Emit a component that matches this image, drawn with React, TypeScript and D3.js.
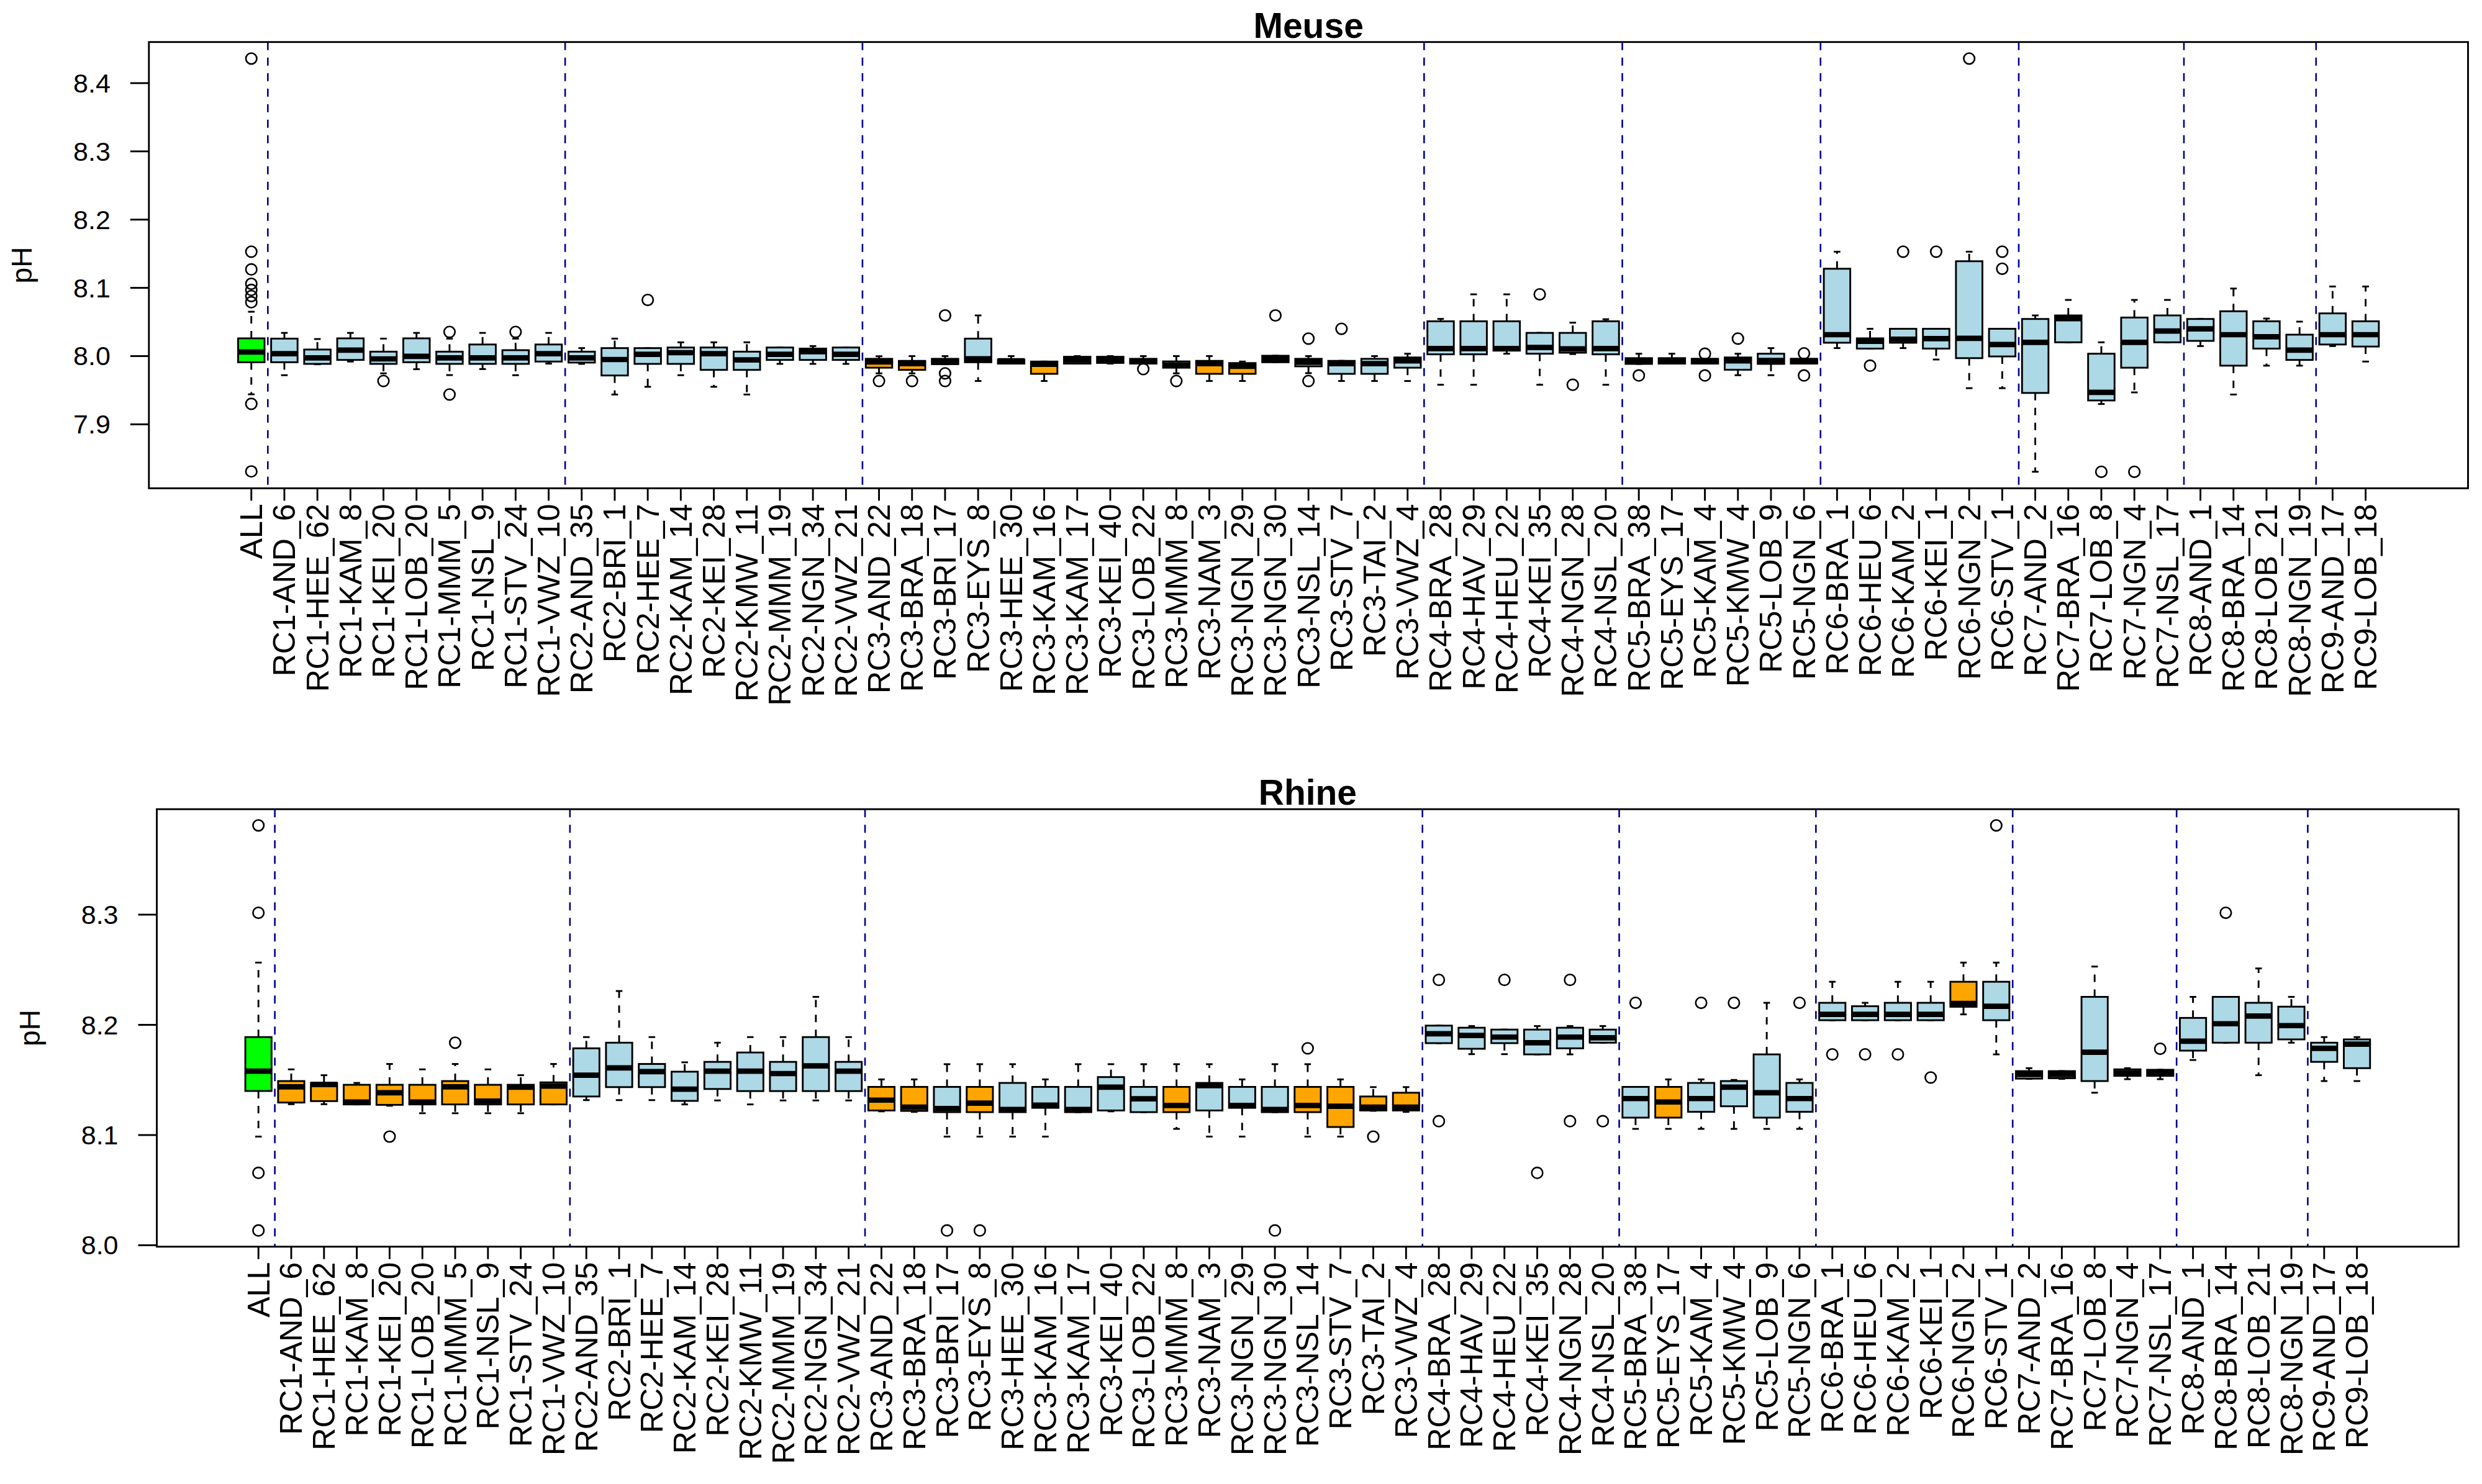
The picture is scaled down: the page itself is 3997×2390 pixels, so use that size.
import React from 'react';
import * as d3 from 'd3';

const categories = [
  'ALL', 'RC1-AND_6', 'RC1-HEE_62', 'RC1-KAM_8', 'RC1-KEI_20', 'RC1-LOB_20', 'RC1-MMM_5', 'RC1-NSL_9', 'RC1-STV_24', 'RC1-VWZ_10',
  'RC2-AND_35', 'RC2-BRI_1', 'RC2-HEE_7', 'RC2-KAM_14', 'RC2-KEI_28', 'RC2-KMW_11', 'RC2-MMM_19', 'RC2-NGN_34', 'RC2-VWZ_21',
  'RC3-AND_22', 'RC3-BRA_18', 'RC3-BRI_17', 'RC3-EYS_8', 'RC3-HEE_30', 'RC3-KAM_16', 'RC3-KAM_17', 'RC3-KEI_40', 'RC3-LOB_22',
  'RC3-MMM_8', 'RC3-NAM_3', 'RC3-NGN_29', 'RC3-NGN_30', 'RC3-NSL_14', 'RC3-STV_7', 'RC3-TAI_2', 'RC3-VWZ_4',
  'RC4-BRA_28', 'RC4-HAV_29', 'RC4-HEU_22', 'RC4-KEI_35', 'RC4-NGN_28', 'RC4-NSL_20',
  'RC5-BRA_38', 'RC5-EYS_17', 'RC5-KAM_4', 'RC5-KMW_4', 'RC5-LOB_9', 'RC5-NGN_6',
  'RC6-BRA_1', 'RC6-HEU_6', 'RC6-KAM_2', 'RC6-KEI_1', 'RC6-NGN_2', 'RC6-STV_1',
  'RC7-AND_2', 'RC7-BRA_16', 'RC7-LOB_8', 'RC7-NGN_4', 'RC7-NSL_17',
  'RC8-AND_1', 'RC8-BRA_14', 'RC8-LOB_21', 'RC8-NGN_19',
  'RC9-AND_17', 'RC9-LOB_18',
];

// ---------------- Meuse ----------------
const meuseLower = [
  7.944, 7.972, 7.988, 7.992, 7.9747, 7.9808, 7.9722, 7.981, 7.972, 7.989,
  7.9886, 7.9437, 7.955, 7.972, 7.955, 7.9437, 7.9886, 7.9886, 7.9886,
  7.9747, 7.9747, 7.988, 7.9635, 7.989, 7.9635, 7.989, 7.989, 7.989, 7.9747, 7.9635, 7.9635, 7.991, 7.975, 7.9635, 7.9635, 7.9635,
  7.958, 7.958, 8.0035, 7.958, 8.003, 7.958,
  7.9886, 7.989, 7.989, 7.972, 7.972, 7.989,
  8.0117, 8.011, 8.0117, 7.995, 7.953, 7.953,
  7.8305, 8.0202, 7.9298, 7.9468, 8.0202,
  8.0147, 7.9437, 7.986, 7.986,
  8.0147, 7.992,
];
const meuseQ1 = [
  7.991, 7.991, 7.9886, 7.9944, 7.9886, 7.991, 7.9886, 7.9886, 7.9886, 7.992,
  7.9905, 7.9716, 7.9886, 7.9886, 7.9798, 7.9798, 7.9944, 7.9944, 7.9944,
  7.983, 7.9798, 7.9883, 7.991, 7.989, 7.974, 7.989, 7.99, 7.989, 7.983, 7.974, 7.974, 7.991, 7.985, 7.974, 7.974, 7.983,
  8.0026, 8.0026, 8.008, 8.0035, 8.005, 8.0026,
  7.9886, 7.989, 7.989, 7.98, 7.9886, 7.989,
  8.0196, 8.011, 8.0196, 8.011, 7.997, 7.9995,
  7.946, 8.0202, 7.935, 7.983, 8.0202,
  8.0223, 7.986, 8.011, 7.9944,
  8.017, 8.014,
];
const meuseMedian = [
  8.006, 8.0035, 7.9974, 8.0087, 7.9959, 7.9996, 7.9974, 7.9974, 7.9974, 8.0035,
  7.9974, 7.995, 8.0026, 8.005, 8.0035, 7.9944, 8.0026, 8.0065, 8.0026,
  7.9914, 7.989, 7.991, 7.996, 7.993, 7.988, 7.9944, 7.995, 7.992, 7.987, 7.989, 7.985, 7.996, 7.991, 7.989, 7.989, 7.993,
  8.011, 8.011, 8.011, 8.0126, 8.0105, 8.011,
  7.993, 7.993, 7.993, 7.993, 7.9935, 7.993,
  8.0314, 8.0217, 8.0247, 8.0256, 8.026, 8.017,
  8.0202, 8.055, 7.9468, 8.0202, 8.0368,
  8.04, 8.0314, 8.0284, 8.0087,
  8.0314, 8.0314,
];
const meuseQ3 = [
  8.026, 8.0256, 8.0096, 8.026, 8.0065, 8.026, 8.0065, 8.017, 8.0087, 8.017,
  8.0065, 8.0117, 8.0117, 8.0126, 8.0126, 8.0065, 8.0126, 8.011, 8.0126,
  7.996, 7.993, 7.996, 8.0256, 7.995, 7.992, 7.999, 7.999, 7.996, 7.9922, 7.993, 7.9898, 8.0005, 7.996, 7.993, 7.996, 7.998,
  8.051, 8.051, 8.051, 8.034, 8.034, 8.051,
  7.997, 7.997, 7.996, 7.998, 8.0035, 7.996,
  8.128, 8.026, 8.04, 8.04, 8.139, 8.04,
  8.0544, 8.0596, 8.0035, 8.0565, 8.0596,
  8.0544, 8.0657, 8.051, 8.0314,
  8.0626, 8.051,
];
const meuseUpper = [
  8.065, 8.034, 8.025, 8.034, 8.0256, 8.034, 8.0256, 8.034, 8.0256, 8.034,
  8.0117, 8.0256, 8.0117, 8.0202, 8.0202, 8.0202, 8.0126, 8.0147, 8.0126,
  7.9998, 8.0, 8.0, 8.0596, 8.0, 7.992, 8.0, 8.0, 8.0, 8.0, 8.0, 7.992, 8.0005, 8.0, 7.993, 8.0, 8.0035,
  8.0545, 8.0905, 8.0905, 8.034, 8.049, 8.054,
  8.0035, 8.0035, 7.996, 8.0035, 8.0117, 7.996,
  8.153, 8.04, 8.04, 8.04, 8.153, 8.04,
  8.0596, 8.0823, 8.0202, 8.0823, 8.0823,
  8.0544, 8.099, 8.055, 8.0505,
  8.102, 8.102,
];
const meuseOutliers: number[][] = [
  [8.436, 8.153, 8.127, 8.106, 8.097, 8.088, 8.079, 7.93, 7.831], [], [], [], [7.9635], [], [8.0354, 7.9437], [], [8.0354], [],
  [], [], [8.0823], [], [], [], [], [], [],
  [7.9635], [7.9635], [8.0596, 7.9747, 7.9635], [], [], [], [], [], [7.981], [7.9635], [], [], [8.0596], [8.0256, 7.9635], [8.04], [], [],
  [], [], [], [8.0905], [7.958], [],
  [7.9716], [], [8.0035, 7.9716], [8.0256], [], [8.004, 7.9716],
  [], [7.986], [8.153], [8.153], [8.436], [8.153, 8.128],
  [], [], [7.8305], [7.8305], [],
  [], [], [], [],
  [], [],
];
const meuseFill = [
  'G', 'B', 'B', 'B', 'B', 'B', 'B', 'B', 'B', 'B',
  'B', 'B', 'B', 'B', 'B', 'B', 'B', 'B', 'B',
  'O', 'O', 'B', 'B', 'B', 'O', 'B', 'B', 'B', 'B', 'O', 'O', 'B', 'B', 'B', 'B', 'B',
  'B', 'B', 'B', 'B', 'B', 'B',
  'B', 'B', 'B', 'B', 'B', 'B',
  'B', 'B', 'B', 'B', 'B', 'B',
  'B', 'B', 'B', 'B', 'B',
  'B', 'B', 'B', 'B',
  'B', 'B',
];
const meuseTicks = [7.9, 8.0, 8.1, 8.2, 8.3, 8.4];

// ---------------- Rhine ----------------
const rhineLower = [
  8.0986, 8.128, 8.128, 8.1278, 8.1266, 8.1198, 8.1198, 8.1198, 8.1198, 8.1278,
  8.1317, 8.1317, 8.1317, 8.1278, 8.1314, 8.1278, 8.1314, 8.1314, 8.1314,
  8.1215, 8.121, 8.0986, 8.0986, 8.0986, 8.0986, 8.1208, 8.1215, 8.1208, 8.1056, 8.0986, 8.0986, 8.1208, 8.0986, 8.0986, 8.122, 8.121,
  8.1834, 8.1734, 8.1734, 8.1732, 8.1732, 8.1838,
  8.1056, 8.1056, 8.1056, 8.1056, 8.1056, 8.1056,
  8.2042, 8.2042, 8.2042, 8.2042, 8.2095, 8.1732,
  8.151, 8.151, 8.1384, 8.1507, 8.1507,
  8.1681, 8.1838, 8.1543, 8.1838,
  8.149, 8.149,
];
const rhineQ1 = [
  8.14, 8.1295, 8.1308, 8.1278, 8.1274, 8.1278, 8.1278, 8.1278, 8.1278, 8.1278,
  8.135, 8.1435, 8.1435, 8.131, 8.1418, 8.1399, 8.1399, 8.1399, 8.1399,
  8.1223, 8.1219, 8.1208, 8.1208, 8.1208, 8.1247, 8.1208, 8.1223, 8.1208, 8.1208, 8.1223, 8.1247, 8.1208, 8.1208, 8.1073, 8.1223, 8.1223,
  8.1834, 8.1783, 8.1834, 8.1732, 8.1787, 8.1838,
  8.1158, 8.1158, 8.1211, 8.1261, 8.1158, 8.1211,
  8.2042, 8.2042, 8.2042, 8.2042, 8.2164, 8.2042,
  8.1512, 8.1516, 8.149, 8.1537, 8.1537,
  8.1766, 8.1838, 8.1838, 8.1868,
  8.1664, 8.1607,
];
const rhineMedian = [
  8.158, 8.1437, 8.1459, 8.13, 8.1384, 8.13, 8.1437, 8.1308, 8.1435, 8.1444,
  8.1543, 8.1609, 8.1575, 8.1416, 8.158, 8.158, 8.1558, 8.1628, 8.158,
  8.1317, 8.1253, 8.124, 8.1289, 8.1232, 8.1272, 8.1232, 8.1435, 8.1329, 8.1268, 8.1448, 8.1268, 8.1232, 8.1268, 8.1261, 8.1253, 8.1253,
  8.1919, 8.1904, 8.1889, 8.1838, 8.1889, 8.1883,
  8.1331, 8.13, 8.1331, 8.1435, 8.1384, 8.1331,
  8.2095, 8.2095, 8.2095, 8.2095, 8.2194, 8.2169,
  8.155, 8.155, 8.1751, 8.1565, 8.1565,
  8.1851, 8.201, 8.208, 8.1993,
  8.1787, 8.1825,
];
const rhineQ3 = [
  8.1889, 8.149, 8.1473, 8.1456, 8.1456, 8.1456, 8.149, 8.1456, 8.1456, 8.1478,
  8.1787, 8.1838, 8.1645, 8.1575, 8.1664, 8.1749, 8.1664, 8.1889, 8.1664,
  8.1437, 8.1437, 8.1437, 8.1437, 8.1473, 8.1437, 8.1437, 8.1526, 8.1437, 8.1437, 8.1473, 8.1437, 8.1437, 8.1437, 8.1437, 8.135, 8.1384,
  8.1993, 8.1974, 8.1957, 8.1957, 8.1974, 8.1957,
  8.1437, 8.1437, 8.1473, 8.149, 8.1732, 8.1473,
  8.22, 8.2169, 8.22, 8.22, 8.2391, 8.2391,
  8.158, 8.158, 8.2254, 8.1596, 8.1592,
  8.2063, 8.2254, 8.22, 8.2165,
  8.1838, 8.1868,
];
const rhineUpper = [
  8.2565, 8.1596, 8.1543, 8.1473, 8.1645, 8.1596, 8.1645, 8.1596, 8.1543, 8.1645,
  8.1889, 8.2307, 8.1889, 8.166, 8.1838, 8.1889, 8.1889, 8.2254, 8.1889,
  8.1505, 8.1505, 8.1643, 8.1643, 8.1643, 8.1505, 8.1643, 8.1643, 8.1643, 8.1643, 8.1643, 8.1505, 8.1643, 8.1643, 8.1505, 8.1435, 8.1435,
  8.1993, 8.1989, 8.1957, 8.1989, 8.1989, 8.1989,
  8.1437, 8.1505, 8.1505, 8.15, 8.22, 8.1505,
  8.2391, 8.22, 8.2391, 8.2391, 8.2565, 8.2565,
  8.1607, 8.158, 8.2529, 8.1607, 8.1592,
  8.2254, 8.2254, 8.2512, 8.2254,
  8.1889, 8.1889,
];
const rhineOutliers: number[][] = [
  [8.381, 8.3017, 8.0657, 8.0134], [], [], [], [8.0986], [], [8.1838], [], [], [],
  [], [], [], [], [], [], [], [], [],
  [], [], [8.0134], [8.0134], [], [], [], [], [], [], [], [], [8.0134], [8.1787], [], [8.0986], [],
  [8.2408, 8.1126], [], [8.2408], [8.0657], [8.2408, 8.1126], [8.1126],
  [8.22], [], [8.22], [8.22], [], [8.22],
  [8.1732], [8.1732], [8.1732], [8.1522], [], [8.381],
  [], [], [], [], [8.1783],
  [], [8.3017], [], [],
  [], [],
];
const rhineFill = [
  'G', 'O', 'O', 'O', 'O', 'O', 'O', 'O', 'O', 'O',
  'B', 'B', 'B', 'B', 'B', 'B', 'B', 'B', 'B',
  'O', 'O', 'B', 'O', 'B', 'B', 'B', 'B', 'B', 'O', 'B', 'B', 'B', 'O', 'O', 'O', 'O',
  'B', 'B', 'B', 'B', 'B', 'B',
  'B', 'O', 'B', 'B', 'B', 'B',
  'B', 'B', 'B', 'B', 'O', 'B',
  'B', 'B', 'B', 'B', 'B',
  'B', 'B', 'B', 'B',
  'B', 'B',
];
const rhineTicks = [8.0, 8.1, 8.2, 8.3];

// ---------------- drawing ----------------
const FONT = "'Liberation Sans', Arial, Helvetica, sans-serif";
const FILLS: Record<string, string> = { G: '#00FF00', O: '#FFA500', B: '#ADD8E6' };
const LW = 2.9;

type Frame = { left: number; right: number; top: number; bottom: number };

function Panel(props: {
  title: string;
  lower: number[]; q1: number[]; median: number[]; q3: number[]; upper: number[];
  outliers: number[][]; fills: string[]; ticks: number[]; frame: Frame; ylabX: number;
}) {
  const { title, lower, q1, median, q3, upper, outliers, fills, ticks, frame, ylabX } = props;
  const n = categories.length;
  const x = d3.scaleLinear()
    .domain([0.5 - 0.04 * n, n + 0.5 + 0.04 * n])
    .range([frame.left, frame.right]);
  const vals = [...lower, ...upper, ...outliers.flat()];
  const mn = d3.min(vals) as number;
  const mx = d3.max(vals) as number;
  const pad = (mx - mn) * 0.04;
  const y = d3.scaleLinear().domain([mn - pad, mx + pad]).range([frame.bottom, frame.top]);
  const unit = x(2) - x(1);
  const hw = 0.4 * unit;
  const cw = 0.2 * unit;
  const group = (c: string) => c.split('-')[0];
  const breaks: number[] = [];
  for (let i = 1; i < n; i++) {
    if (group(categories[i]) !== group(categories[i - 1])) breaks.push(i + 0.5);
  }
  const cx = (frame.left + frame.right) / 2;
  const cy = (frame.top + frame.bottom) / 2;
  const labFs = 50;
  return (
    <g>
      <text x={cx} y={frame.top - 7} textAnchor="middle" fontFamily={FONT} fontWeight="bold" fontSize={57}>{title}</text>
      <text transform={`translate(${ylabX},${cy}) rotate(-90)`} textAnchor="middle" fontFamily={FONT} fontSize={46}>pH</text>
      {categories.map((c, i) => {
        const px = x(i + 1);
        return (
          <g key={c}>
            <line x1={px} x2={px} y1={y(q3[i])} y2={y(upper[i])} stroke="#000" strokeWidth={LW} strokeDasharray="12,12" />
            <line x1={px} x2={px} y1={y(q1[i])} y2={y(lower[i])} stroke="#000" strokeWidth={LW} strokeDasharray="12,12" />
            <line x1={px - cw / 2} x2={px + cw / 2} y1={y(upper[i])} y2={y(upper[i])} stroke="#000" strokeWidth={LW} />
            <line x1={px - cw / 2} x2={px + cw / 2} y1={y(lower[i])} y2={y(lower[i])} stroke="#000" strokeWidth={LW} />
            <rect x={px - hw} width={2 * hw} y={y(q3[i])} height={Math.max(0.5, y(q1[i]) - y(q3[i]))}
              fill={FILLS[fills[i]]} stroke="#000" strokeWidth={LW} />
            <line x1={px - hw} x2={px + hw} y1={y(median[i])} y2={y(median[i])} stroke="#000" strokeWidth={LW * 3} />
            {outliers[i].map((o, k) => (
              <circle key={k} cx={px} cy={y(o)} r={8.8} fill="none" stroke="#000" strokeWidth={2.6} />
            ))}
            <line x1={px} x2={px} y1={frame.bottom} y2={frame.bottom + 20} stroke="#000" strokeWidth={LW} />
            <text transform={`translate(${px},${frame.bottom + 25}) rotate(-90)`} dy="0.35em" textAnchor="end"
              fontFamily={FONT} fontSize={labFs}>{c}</text>
          </g>
        );
      })}
      {breaks.map((b) => (
        <line key={b} x1={x(b)} x2={x(b)} y1={frame.top} y2={frame.bottom} stroke="#00008B" strokeWidth={2.6} strokeDasharray="13,12" />
      ))}
      {ticks.map((t) => (
        <g key={t}>
          <line x1={frame.left - 30} x2={frame.left} y1={y(t)} y2={y(t)} stroke="#000" strokeWidth={LW} />
          <text x={frame.left - 62} y={y(t) + 15} textAnchor="end" fontFamily={FONT} fontSize={43}>{t.toFixed(1)}</text>
        </g>
      ))}
      <rect x={frame.left} y={frame.top} width={frame.right - frame.left} height={frame.bottom - frame.top}
        fill="none" stroke="#000" strokeWidth={LW} />
    </g>
  );
}

export default function App() {
  return (
    <svg width={3997} height={2390} viewBox="0 0 3997 2390"
      style={{ position: 'absolute', left: 0, top: 0, background: '#fff' }}>
      <rect x={0} y={0} width={3997} height={2390} fill="#fff" />
      <Panel title="Meuse" lower={meuseLower} q1={meuseQ1} median={meuseMedian} q3={meuseQ3} upper={meuseUpper}
        outliers={meuseOutliers} fills={meuseFill} ticks={meuseTicks}
        frame={{ left: 239.8, right: 3974.5, top: 67.7, bottom: 786.4 }} ylabX={51} />
      <Panel title="Rhine" lower={rhineLower} q1={rhineQ1} median={rhineMedian} q3={rhineQ3} upper={rhineUpper}
        outliers={rhineOutliers} fills={rhineFill} ticks={rhineTicks}
        frame={{ left: 252.5, right: 3959.3, top: 1303.2, bottom: 2007.8 }} ylabX={64} />
    </svg>
  );
}
